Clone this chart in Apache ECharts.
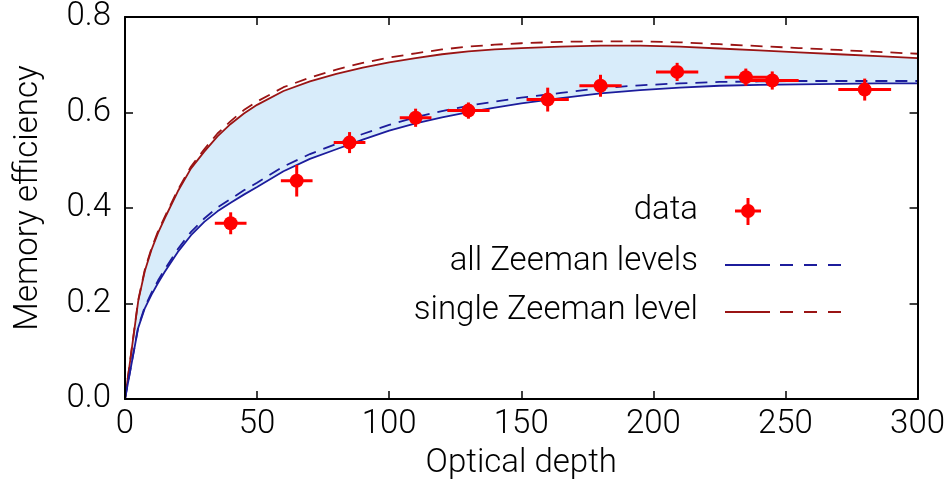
<!DOCTYPE html>
<html><head><meta charset="utf-8">
<script src="https://cdn.jsdelivr.net/npm/echarts@6/dist/echarts.min.js"></script>
<style>html,body{margin:0;padding:0;background:#fff}#c{width:948px;height:485px}</style>
</head><body><div id="c"></div>
<script>
// ---- data ----
const depthGrid = [0, 5, 7.5, 10, 12.5, 15, 20, 25, 30, 35, 40, 45, 50, 60, 70, 80, 90, 100, 110, 120, 130, 140, 150, 165, 180, 195, 210, 225, 240, 255, 270, 285, 300];
const allZeemanSolid     = [0, 0.149, 0.190, 0.218, 0.243, 0.266, 0.308, 0.343, 0.371, 0.393, 0.411, 0.428, 0.444, 0.477, 0.503, 0.523, 0.543, 0.562, 0.577, 0.590, 0.601, 0.610, 0.619, 0.630, 0.640, 0.647, 0.652, 0.656, 0.658, 0.659, 0.660, 0.661, 0.661];
const allZeemanDashed    = [0, 0.151, 0.193, 0.222, 0.248, 0.271, 0.314, 0.350, 0.378, 0.401, 0.419, 0.437, 0.453, 0.487, 0.513, 0.534, 0.555, 0.574, 0.590, 0.603, 0.614, 0.623, 0.631, 0.641, 0.651, 0.657, 0.661, 0.664, 0.665, 0.666, 0.666, 0.666, 0.666];
const singleZeemanSolid  = [0, 0.205, 0.268, 0.312, 0.348, 0.378, 0.435, 0.483, 0.518, 0.550, 0.576, 0.598, 0.616, 0.645, 0.665, 0.681, 0.694, 0.705, 0.714, 0.722, 0.728, 0.732, 0.735, 0.738, 0.740, 0.740, 0.738, 0.734, 0.730, 0.726, 0.722, 0.718, 0.714];
const singleZeemanDashed = [0, 0.207, 0.271, 0.315, 0.351, 0.381, 0.438, 0.487, 0.523, 0.556, 0.582, 0.605, 0.623, 0.653, 0.673, 0.690, 0.704, 0.715, 0.724, 0.732, 0.738, 0.742, 0.745, 0.748, 0.749, 0.749, 0.747, 0.743, 0.739, 0.735, 0.731, 0.727, 0.723];

const dataX    = [40, 65, 85, 110, 130, 160, 180, 209, 235, 245, 280];
const dataY    = [0.368, 0.457, 0.537, 0.589, 0.604, 0.627, 0.656, 0.685, 0.674, 0.667, 0.648];
const dataXErr = [6, 6, 6, 6, 8, 8, 8, 8, 8, 10, 10];
const dataYErr = [0.023, 0.033, 0.022, 0.019, 0.017, 0.025, 0.023, 0.019, 0.018, 0.019, 0.023];

const xTicks = [0, 50, 100, 150, 200, 250, 300];
const yTicks = [0.0, 0.2, 0.4, 0.6, 0.8];

const legendLabels = ['data', 'all Zeeman levels', 'single Zeeman level'];

// ---- styles ----
const FONT = 'Roboto';
const FS = 33;
const BLUE = '#1c1c9c';
const DARKRED = '#9a1414';
const RED = '#ff0000';
const FILL = '#d8ecfa';

const pair = (xs, ys) => xs.map((x, i) => [x, ys[i]]);
const errData = dataX.map((x, i) => [x, dataY[i], dataXErr[i], dataYErr[i]]);

const chart = echarts.init(document.getElementById('c'), null, {renderer: 'canvas'});

const lineBase = {type: 'line', showSymbol: false, symbol: 'none', smooth: false, silent: true};

function axisCommon() {
  return {
    axisLine: {show: true, onZero: false, lineStyle: {color: '#000', width: 2}},
    axisTick: {show: true, inside: true, length: 8, lineStyle: {color: '#000', width: 1.5}},
    splitLine: {show: false},
    axisLabel: {fontFamily: FONT, fontWeight: 300, fontSize: FS, color: '#000'}
  };
}

const option = {
  animation: false,
  backgroundColor: '#fff',
  grid: {left: 125, right: 30, top: 17, bottom: 84, show: false},
  xAxis: [
    Object.assign(axisCommon(), {
      type: 'value', min: 0, max: 300, interval: 50, position: 'bottom', z: 10,
      name: 'Optical depth', nameLocation: 'middle', nameGap: 48,
      nameTextStyle: {fontFamily: FONT, fontWeight: 300, fontSize: FS, color: '#000'},
      axisLabel: Object.assign(axisCommon().axisLabel, {margin: 9, formatter: v => xTicks.includes(v) ? String(v) : ''})
    }),
    Object.assign(axisCommon(), {
      type: 'value', min: 0, max: 300, interval: 50, position: 'top', z: 10,
      axisLabel: {show: false}
    })
  ],
  yAxis: [
    Object.assign(axisCommon(), {
      type: 'value', min: 0, max: 0.8, interval: 0.2, position: 'left', z: 10,
      name: 'Memory efficiency', nameLocation: 'middle', nameGap: 80, nameRotate: 90,
      nameTextStyle: {fontFamily: FONT, fontWeight: 300, fontSize: FS, color: '#000', padding: [0, 0, 0, 20]},
      axisLabel: Object.assign(axisCommon().axisLabel, {margin: 14, formatter: v => v.toFixed(1)})
    }),
    Object.assign(axisCommon(), {
      type: 'value', min: 0, max: 0.8, interval: 0.2, position: 'right', z: 10,
      axisLabel: {show: false}
    })
  ],
  series: [
    {
      type: 'custom', name: 'band', data: [0], z: 1, silent: true, clip: true,
      renderItem: function (params, api) {
        const pts = [];
        for (let i = 0; i < depthGrid.length; i++) pts.push(api.coord([depthGrid[i], singleZeemanSolid[i]]));
        for (let i = depthGrid.length - 1; i >= 0; i--) pts.push(api.coord([depthGrid[i], allZeemanSolid[i]]));
        return {type: 'polygon', shape: {points: pts}, style: {fill: FILL}};
      }
    },
    Object.assign({}, lineBase, {
      name: legendLabels[2] + ' (dashed)', data: pair(depthGrid, singleZeemanDashed),
      lineStyle: {color: DARKRED, width: 1.8, type: [12, 8]}, z: 3
    }),
    Object.assign({}, lineBase, {
      name: legendLabels[2], data: pair(depthGrid, singleZeemanSolid),
      lineStyle: {color: DARKRED, width: 1.8}, z: 3
    }),
    Object.assign({}, lineBase, {
      name: legendLabels[1] + ' (dashed)', data: pair(depthGrid, allZeemanDashed),
      lineStyle: {color: BLUE, width: 1.8, type: [12, 8]}, z: 3
    }),
    Object.assign({}, lineBase, {
      name: legendLabels[1], data: pair(depthGrid, allZeemanSolid),
      lineStyle: {color: BLUE, width: 1.8}, z: 3
    }),
    {
      type: 'custom', name: legendLabels[0], data: errData, z: 5, silent: true,
      renderItem: function (params, api) {
        const x = api.value(0), y = api.value(1), dx = api.value(2), dy = api.value(3);
        const c = api.coord([x, y]);
        const l = api.coord([x - dx, y]), r = api.coord([x + dx, y]);
        const t = api.coord([x, y + dy]), b = api.coord([x, y - dy]);
        const st = {stroke: RED, lineWidth: 3};
        return {type: 'group', children: [
          {type: 'line', shape: {x1: l[0], y1: c[1], x2: r[0], y2: c[1]}, style: st},
          {type: 'line', shape: {x1: c[0], y1: t[1], x2: c[0], y2: b[1]}, style: st},
          {type: 'circle', shape: {cx: c[0], cy: c[1], r: 7}, style: {fill: RED}}
        ]};
      }
    }
  ],
  graphic: {elements: [
    {type: 'text', x: 698, y: 211, style: {text: legendLabels[0], fontFamily: FONT, fontWeight: 300, fontSize: FS, fill: '#000', align: 'right', verticalAlign: 'middle'}},
    {type: 'text', x: 698, y: 262, style: {text: legendLabels[1], fontFamily: FONT, fontWeight: 300, fontSize: FS, fill: '#000', align: 'right', verticalAlign: 'middle'}},
    {type: 'text', x: 698, y: 311, style: {text: legendLabels[2], fontFamily: FONT, fontWeight: 300, fontSize: FS, fill: '#000', align: 'right', verticalAlign: 'middle'}},
    {type: 'line', shape: {x1: 735, y1: 211, x2: 761, y2: 211}, style: {stroke: RED, lineWidth: 3}},
    {type: 'line', shape: {x1: 748, y1: 198, x2: 748, y2: 225}, style: {stroke: RED, lineWidth: 3}},
    {type: 'circle', shape: {cx: 748, cy: 211, r: 7}, style: {fill: RED}},
    {type: 'line', shape: {x1: 725, y1: 265, x2: 770, y2: 265}, style: {stroke: BLUE, lineWidth: 2}},
    {type: 'line', shape: {x1: 780, y1: 265, x2: 841, y2: 265}, style: {stroke: BLUE, lineWidth: 2, lineDash: [13, 11]}},
    {type: 'line', shape: {x1: 725, y1: 312, x2: 770, y2: 312}, style: {stroke: DARKRED, lineWidth: 2}},
    {type: 'line', shape: {x1: 780, y1: 312, x2: 841, y2: 312}, style: {stroke: DARKRED, lineWidth: 2, lineDash: [13, 11]}}
  ]}
};
chart.setOption(option);
</script>
</body></html>
